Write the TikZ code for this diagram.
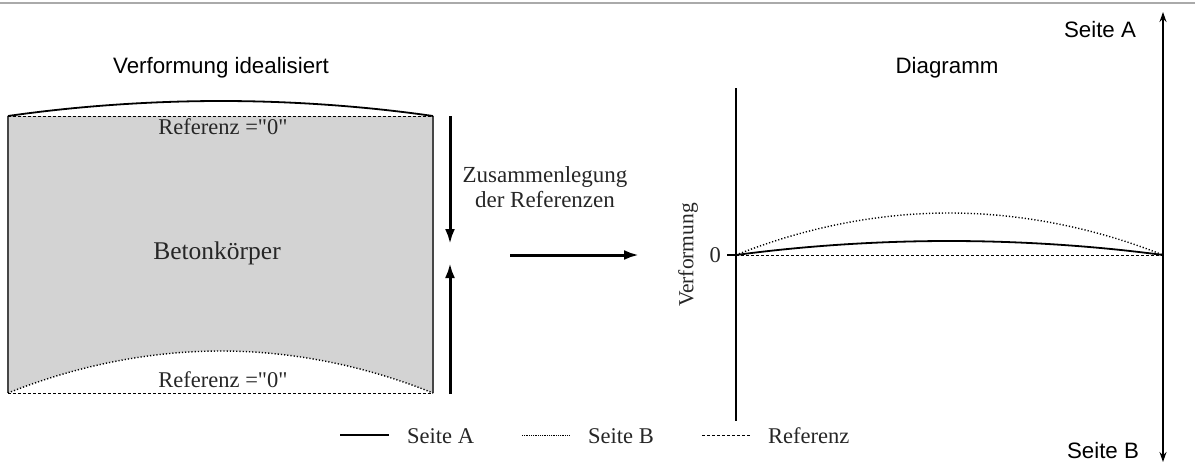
\documentclass[tikz,border=0pt]{standalone}
\usepackage{fontspec}
\newfontfamily\serifface{Liberation Serif}
\newfontfamily\sansface{Liberation Sans}
\usetikzlibrary{arrows.meta}

\definecolor{blockfill}{RGB}{211,211,211}
\definecolor{rulegray}{RGB}{170,170,170}
\definecolor{edgegray}{RGB}{70,70,70}

\tikzset{
  serif/.style={font=\serifface\fontsize{22.5}{25}\selectfont, text=black!85, inner sep=0pt},
  sanslabel/.style={font=\sansface\fontsize{22.3}{26}\selectfont, inner sep=0pt},
  refline/.style={line width=0.9pt, dash pattern=on 3pt off 2pt},
  sideB/.style={line width=1.4pt, dash pattern=on 1.2pt off 2pt},
  sideA/.style={line width=1.8pt},
  bigarrow/.style={line width=3pt, -{Latex[length=15pt,width=10pt]}},
  axisarrow/.style={line width=1.3pt, {Stealth[length=10pt,width=7pt]}-{Stealth[length=10pt,width=7pt]}},
}

\begin{document}
\begin{tikzpicture}[x=1pt,y=-1pt]
\useasboundingbox (0,0) rectangle (1195,464);

% header rule
\draw[rulegray, line width=2pt] (0,3) -- (1195,3);

% ---------- left part: idealised deformation of the concrete body ----------
\node[sanslabel] (titleL) at (221,68) {Verformung idealisiert};

\coordinate (tl) at (8,116);
\coordinate (tr) at (433,116);
\coordinate (bl) at (8,393);
\coordinate (br) at (433,393);

\fill[blockfill] (tl) -- (tr) -- (br) parabola bend (221,351) (bl) -- cycle;
\draw[edgegray, line width=1.2pt] (tl) -- (bl);
\draw[edgegray, line width=1.2pt] (tr) -- (br);
\draw[sideA] (tl) parabola bend (221,101) (tr);
\draw[refline] (tl) -- (tr);
\draw[refline] (bl) -- (br);
\draw[sideB] (bl) parabola bend (221,351) (br);

\node[serif] (refTop) at (223,127) {Referenz ="0"};
\node[serif] (refBot) at (223,380) {Referenz ="0"};
\node[serif, font=\serifface\fontsize{25.5}{30}\selectfont] (beton) at (217,253) {Betonkörper};

% merging of the two references
\coordinate (downS) at (450,116);
\coordinate (downE) at (450,244);
\coordinate (upS) at (450,394);
\coordinate (upE) at (450,263);
\draw[bigarrow] (downS) -- (downE);
\draw[bigarrow] (upS) -- (upE);

\node[serif, align=center, font=\serifface\fontsize{23}{25}\selectfont] (merge) at (545,187)
  {Zusammenlegung\\der Referenzen};

\coordinate (hS) at (510,255);
\coordinate (hE) at (639,255);
\draw[bigarrow] (hS) -- (hE);

% ---------- right part: diagram ----------
\node[sanslabel] (titleR) at (947,68) {Diagramm};

\coordinate (axTop) at (736,88);
\coordinate (axBot) at (736,421);
\coordinate (zero) at (736,255);
\coordinate (zeroEnd) at (1163,255);
\coordinate (tick) at (727,255);
\draw[line width=2pt] (axTop) -- (axBot);
\draw[line width=1.5pt] (tick) -- (zero);
\node[serif, anchor=east] (zeroLbl) at (721,255) {0};
\node[serif, rotate=90, font=\serifface\fontsize{21.5}{25}\selectfont] (yLbl) at (688,255) {Verformung};

\draw[refline] (zero) -- (zeroEnd);
\draw[sideB] (zero) parabola bend (949,213) (zeroEnd);
\draw[sideA] (zero) parabola bend (949,241) (zeroEnd);

% side A / side B axis
\coordinate (sideTop) at (1163,12);
\coordinate (sideBot) at (1163,462);
\draw[axisarrow] (sideBot) -- (sideTop);
\node[sanslabel] (sA) at (1100,30) {Seite A};
\node[sanslabel] (sB) at (1103,451) {Seite B};

% legend
\coordinate (lgA1) at (340,435);
\coordinate (lgA2) at (389,435);
\coordinate (lgB1) at (522,435);
\coordinate (lgB2) at (570,435);
\coordinate (lgR1) at (702,435);
\coordinate (lgR2) at (750,435);
\draw[line width=1.3pt] (lgA1) -- (lgA2);
\draw[line width=0.9pt, dash pattern=on 0.8pt off 1pt] (lgB1) -- (lgB2);
\draw[line width=0.9pt, dash pattern=on 3pt off 2pt] (lgR1) -- (lgR2);
\node[serif, anchor=west] (lgAtxt) at (407,436) {Seite A};
\node[serif, anchor=west] (lgBtxt) at (588,436) {Seite B};
\node[serif, anchor=west] (lgRtxt) at (768,436) {Referenz};
\end{tikzpicture}
\end{document}
